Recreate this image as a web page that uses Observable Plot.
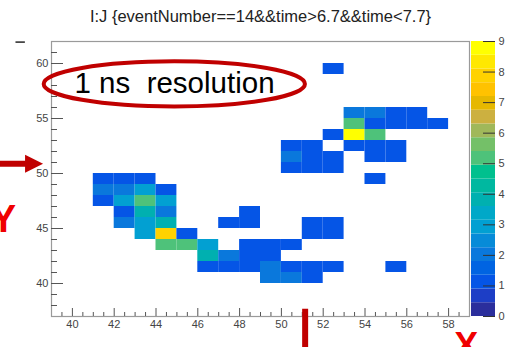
<!DOCTYPE html>
<html>
<head>
<meta charset="utf-8">
<script src="https://cdn.jsdelivr.net/npm/d3@7"></script>
<script src="https://cdn.jsdelivr.net/npm/@observablehq/plot@0.6"></script>
<style>
  body { margin: 0; background: #fff; }
  #chart { position: relative; width: 513px; height: 347px; overflow: hidden; background: #fff; }
  #chart svg { position: absolute; left: 0; top: 0; }
</style>
</head>
<body>
<div id="chart"></div>
<script>
// ---- 2D histogram I:J, unit bins; each entry is the lower edge of a bin and its count
const binI = [
  52,
  53, 54, 55, 56,
  53, 54, 55, 56, 57,
  52, 53, 54,
  50, 51, 53, 54, 55,
  50, 51, 52, 54, 55,
  50, 51, 52,
  54, 41, 42, 43,
  41, 42, 43, 44,
  41, 42, 43, 44,
  42, 43, 44, 48,
  42, 43, 44, 47, 48, 51, 52,
  43, 44, 45, 51, 52,
  44, 45, 46, 48, 49, 50,
  46, 47, 48, 49,
  46, 47, 48, 49, 50, 51, 52, 55,
  49, 50, 51
];
const binJ = [
  59,
  55, 55, 55, 55,
  54, 54, 54, 54, 54,
  53, 53, 53,
  52, 52, 52, 52, 52,
  51, 51, 51, 51, 51,
  50, 50, 50,
  49, 49, 49, 49,
  48, 48, 48, 48,
  47, 47, 47, 47,
  46, 46, 46, 46,
  45, 45, 45, 45, 45, 45, 45,
  44, 44, 44, 44, 44,
  43, 43, 43, 43, 43, 43,
  42, 42, 42, 42,
  41, 41, 41, 41, 41, 41, 41, 41,
  40, 40, 40
];
const binCount = [
  1,
  2, 2, 1, 1,
  5, 1, 1, 1, 1,
  1, 9, 5,
  1, 1, 1, 1, 1,
  2, 1, 1, 1, 1,
  1, 1, 1,
  1, 1, 1, 1,
  2, 2, 3, 1,
  1, 3, 5, 3,
  1, 4, 2, 1,
  2, 3, 4, 1, 1, 1, 1,
  3, 8, 1, 1, 1,
  5, 5, 3, 1, 1, 1,
  4, 2, 1, 1,
  1, 1, 1, 2, 1, 1, 1, 1,
  2, 2, 1
];

// ---- axes
const xRange = [39, 59];
const yRange = [37, 62];
const xMajorTicks = [40, 42, 44, 46, 48, 50, 52, 54, 56, 58];
const xMinorTicks = d3.range(39.5, 59, 0.5).filter(v => v % 2 !== 0);
const yMajorTicks = [40, 45, 50, 55, 60];
const yMinorTicks = d3.range(38, 62, 1).filter(v => v % 5 !== 0);

// ---- colour palette: 20 contour bands between 0 and zMax
const zMax = 9;
const zTicks = [0, 1, 2, 3, 4, 5, 6, 7, 8, 9];
const paletteColors = [
  "#2b2e9c", "#1d3ec6", "#0555e6", "#0064e2", "#0a78dc",
  "#078bd8", "#02a0d2", "#00a8c8", "#00b0b0", "#00b8a0",
  "#00c08e", "#4ec27a", "#74c068", "#a0b85a", "#ccb040",
  "#e6b800", "#ffc200", "#ffd200", "#ffe800", "#ffff00"
];
const nContours = paletteColors.length;
const contourLevels = d3.range(1, nContours).map(k => k * zMax / nContours);

// ---- text
const titleText = "I:J {eventNumber==14&&time>6.7&&time<7.7}";
const noteText = "1 ns  resolution";

// ---- hand-drawn annotations (in I/J units)
const noteEllipse = {cx: 44.9, cy: 58.1, rx: 6.25, ry: 2.05};
const noteAnchor = {x: 40.1, y: 57.3};
const arrowY = {x1: 36.3, x2: 38.62, y: 50.85};
const xMarker = {x: 51.16, y1: 37.66, y2: 33.8};
const cornerDash = {x1: 37.3, x2: 37.75, y: 61.9};
const axisLetters = [
  {text: "Y", x: 36.7, y: 44.66, size: 38},
  {text: "X", x: 58.85, y: 33.2, size: 36}
];

const bins = binI.map((i, k) => ({i, j: binJ[k], count: binCount[k]}));

const W = 513, H = 347;
const margin = {left: 51, right: 44, top: 41, bottom: 31};
const frameW = W - margin.left - margin.right;
const frameH = H - margin.top - margin.bottom;
const fontFamily = "'Liberation Sans', Arial, Helvetica, sans-serif";
const colorScale = {type: "threshold", domain: contourLevels, range: paletteColors};
const red = "#c00000";

function annotations(index, {x, y}) {
  const g = d3.create("svg:g");
  // ellipse around the note
  g.append("ellipse")
    .attr("cx", x(noteEllipse.cx)).attr("cy", y(noteEllipse.cy))
    .attr("rx", x(noteEllipse.cx + noteEllipse.rx) - x(noteEllipse.cx))
    .attr("ry", y(noteEllipse.cy) - y(noteEllipse.cy + noteEllipse.ry))
    .attr("fill", "none").attr("stroke", red).attr("stroke-width", 4);
  // arrow pointing at J = 51
  const ax1 = x(arrowY.x1), ax2 = x(arrowY.x2), ay = y(arrowY.y);
  const head = 18, half = 9;
  g.append("line")
    .attr("x1", ax1).attr("x2", ax2 - head + 2).attr("y1", ay).attr("y2", ay)
    .attr("stroke", red).attr("stroke-width", 6);
  g.append("path")
    .attr("d", `M${ax2},${ay}L${ax2 - head},${ay - half}L${ax2 - head},${ay + half}Z`)
    .attr("fill", red);
  // marker below I = 51
  g.append("line")
    .attr("x1", x(xMarker.x)).attr("x2", x(xMarker.x))
    .attr("y1", y(xMarker.y1)).attr("y2", y(xMarker.y2))
    .attr("stroke", red).attr("stroke-width", 6);
  // small dash at the top-left corner
  g.append("line")
    .attr("x1", x(cornerDash.x1)).attr("x2", x(cornerDash.x2))
    .attr("y1", y(cornerDash.y)).attr("y2", y(cornerDash.y))
    .attr("stroke", "#333").attr("stroke-width", 1.6);
  return g.node();
}

const main = Plot.plot({
  width: W,
  height: H,
  marginLeft: margin.left,
  marginRight: margin.right,
  marginTop: margin.top,
  marginBottom: margin.bottom,
  style: {fontFamily, fontSize: "11px", color: "#444", background: "#fff"},
  x: {domain: xRange, label: null},
  y: {domain: yRange, label: null},
  color: colorScale,
  marks: [
    Plot.rect(bins, {x1: "i", x2: d => d.i + 1, y1: "j", y2: d => d.j + 1, fill: "count"}),
    Plot.frame({stroke: "#9a9a9a", strokeWidth: 1.2}),
    // ticks drawn inward from the frame
    Plot.tickX(xMajorTicks, {x: d => d, insetTop: frameH - 8, stroke: "#555"}),
    Plot.tickX(xMinorTicks, {x: d => d, insetTop: frameH - 4, stroke: "#555"}),
    Plot.tickY(yMajorTicks, {y: d => d, insetRight: frameW - 12, stroke: "#555"}),
    Plot.tickY(yMinorTicks, {y: d => d, insetRight: frameW - 6, stroke: "#555"}),
    Plot.axisX(xMajorTicks, {tickSize: 0, tickPadding: 4, fill: "#444"}),
    Plot.axisY(yMajorTicks, {tickSize: 0, tickPadding: 3, fill: "#444"}),
    Plot.text([titleText], {frameAnchor: "top", dy: -20, lineAnchor: "bottom", fontSize: 16.5, fill: "#222"}),
    annotations,
    Plot.text([noteText], {x: noteAnchor.x, y: noteAnchor.y, textAnchor: "start", lineAnchor: "bottom", fontSize: 29.5, fill: "#000"}),
    Plot.text(axisLetters, {x: "x", y: "y", text: "text", lineAnchor: "bottom", fontSize: d => d.size, fontWeight: "bold", fill: "#f00000"})
  ]
});

// colour bar to the right of the frame
const bands = paletteColors.map((c, k) => ({lo: k * zMax / nContours, hi: (k + 1) * zMax / nContours}));
const colorBar = Plot.plot({
  width: W,
  height: H,
  marginLeft: 471,
  marginRight: 18,
  marginTop: margin.top,
  marginBottom: margin.bottom,
  style: {fontFamily, fontSize: "11px", color: "#444", background: "transparent"},
  x: {domain: [0, 1], axis: null},
  y: {domain: [0, zMax], axis: null},
  color: colorScale,
  marks: [
    Plot.rect(bands, {x1: 0, x2: 1, y1: "lo", y2: "hi", fill: d => (d.lo + d.hi) / 2}),
    Plot.ruleY(zTicks, {y: d => d, x1: 0.5, x2: 1, stroke: "#333"}),
    Plot.axisY(zTicks, {anchor: "right", tickSize: 0, tickPadding: 3, fill: "#444"})
  ]
});

const chart = document.getElementById("chart");
chart.append(main, colorBar);
</script>
</body>
</html>
